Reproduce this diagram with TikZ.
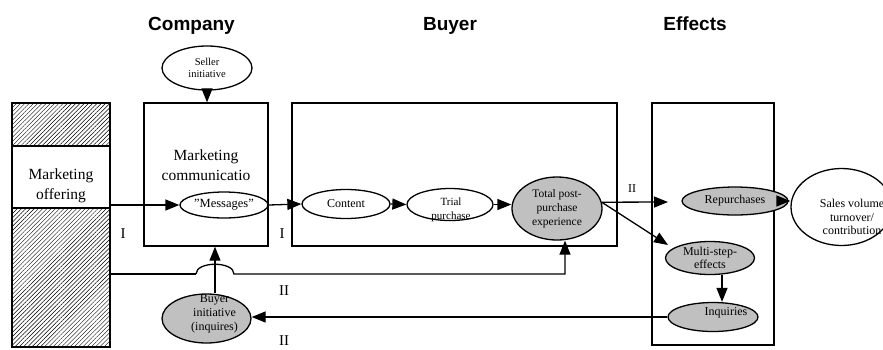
\documentclass[tikz,border=0pt]{standalone}
\usepackage{fontspec}
\setmainfont{Liberation Serif}
\newfontfamily\titlefont{Liberation Sans}
\usetikzlibrary{arrows.meta,shapes.geometric,patterns.meta}
\definecolor{shade}{RGB}{192,192,192}
\begin{document}
\begin{tikzpicture}[x=1pt,y=-1pt,
  title/.style={font=\titlefont\bfseries\fontsize{19}{22}\selectfont, inner sep=0pt, anchor=base},
  boxst/.style={draw, line width=1.4pt, inner sep=0pt},
  oval/.style={ellipse, draw, line width=1.3pt, inner sep=0pt, fill=white, align=center},
  grayoval/.style={oval, fill=shade},
  txt/.style={inner sep=0pt, align=center},
  arr/.style={-{Triangle[length=14pt,width=11pt]}, line width=1.3pt},
  lbl/.style={inner sep=0pt, font=\fontsize{15}{18}\selectfont, anchor=base}
]
\useasboundingbox (0,0) rectangle (883,349);

% titles
\node[title] (tcomp) at (191.5,30) {Company};
\node[title] (tbuy) at (450,30) {Buyer};
\node[title] (teff) at (695,30) {Effects};

% boxes
\node[boxst, minimum width=124pt, minimum height=143pt] (comp) at (206,174.5) {};
\node[txt, font=\fontsize{15.5}{20}\selectfont] (comptxt) at (206,165) {Marketing\\communicatio};
\node[boxst, minimum width=325pt, minimum height=143pt] (buy) at (454.5,174.5) {};
\node[boxst, minimum width=122pt, minimum height=242pt] (eff) at (713,224) {};
\node[boxst, minimum width=98pt, minimum height=244pt,
      pattern={Lines[angle=45,distance=3pt,line width=0.45pt]}] (col) at (61,225) {};
\node[boxst, fill=white, minimum width=98pt, minimum height=62pt] (mo) at (61,177) {};
\node[txt, font=\fontsize{15.5}{20}\selectfont] (motxt) at (61,185.5) {Marketing\\offering};

% ellipses
\node[oval, minimum width=90pt, minimum height=44pt, font=\fontsize{10.5}{12.5}\selectfont] (seller) at (207,68) {Seller\\initiative};
\node[oval, minimum width=88pt, minimum height=26pt, font=\fontsize{12.5}{14}\selectfont] (msg) at (224,205) {”Messages”};
\node[oval, minimum width=88pt, minimum height=29pt, font=\fontsize{12}{14}\selectfont] (content) at (346,204) {Content};
\node[oval, minimum width=86pt, minimum height=32pt] (trial) at (450,204.5) {};
\node[txt, font=\fontsize{11}{14}\selectfont] (trialtxt) at (451,209.5) {Trial\\purchase};
\node[grayoval, minimum width=90pt, minimum height=63pt, font=\fontsize{11.5}{14}\selectfont] (total) at (557,208.5) {Total post-\\purchase\\experience};
\node[grayoval, minimum width=106pt, minimum height=28pt, font=\fontsize{12}{14}\selectfont] (rep) at (735,201) {Repurchases};
\node[oval, minimum width=101pt, minimum height=77pt] (sales) at (841.5,207) {};
\node[txt, font=\fontsize{12}{13.5}\selectfont] (salestxt) at (852,217) {Sales volume\\turnover/\\contribution};
\node[grayoval, minimum width=89pt, minimum height=33pt, font=\fontsize{12}{13}\selectfont] (multi) at (710,258) {Multi-step-\\effects};
\node[grayoval, minimum width=90pt, minimum height=29pt] (inq) at (713,317) {};
\node[txt, font=\fontsize{12}{14}\selectfont] (inqtxt) at (726,313) {Inquiries};
\node[grayoval, minimum width=89pt, minimum height=49pt] (bi) at (206.5,318.5) {};
\node[txt, font=\fontsize{12}{14}\selectfont] (bitxt) at (214.5,313.5) {Buyer\\initiative\\(inquires)};

% connectors
\draw[arr] (seller) -- (comp.north -| seller);
\draw[arr] (mo.east |- msg.west) -- (msg.west);
\draw[arr] (msg.east) -- (content.west);
\draw[arr] (content.east) -- (trial.west);
\draw[arr] (trial.east) -- (trial.east -| total.west);
\coordinate (rtip) at (668,202);
\coordinate (mtip) at (668,245);
\draw[arr] (total.8) -- (rtip);
\draw[arr] (total.8) -- (mtip);
\draw[arr] (rep.east) -- (rep.east -| sales.west);
\coordinate (ms) at ([xshift=12pt]multi.south);
\draw[arr] (ms) -- (ms |- inq.north);
\draw[arr] (inq.west) -- (inq.west -| bi.east);
\coordinate (bn) at ([xshift=8.5pt]bi.north);
\draw[arr] (bn) -- (bn |- comp.south);

% feedback line with hop
\coordinate (hopL) at (196,274);
\coordinate (hopR) at (234,274);
\coordinate (tb) at ([xshift=8pt]total.south);
\draw[line width=2.5pt] (col.east |- hopL) -- (hopL);
\draw[arr] (hopL) .. controls (196,261) and (234,261) .. (hopR) -- (tb |- hopR) -- (tb);

% labels
\node[lbl] (l1) at (123,238) {I};
\node[lbl] (l2) at (282,238) {I};
\node[lbl, font=\fontsize{12}{14}\selectfont] (l3) at (632,192) {II};
\node[lbl] (l4) at (284,295) {II};
\node[lbl] (l5) at (284,345) {II};
\end{tikzpicture}
\end{document}
